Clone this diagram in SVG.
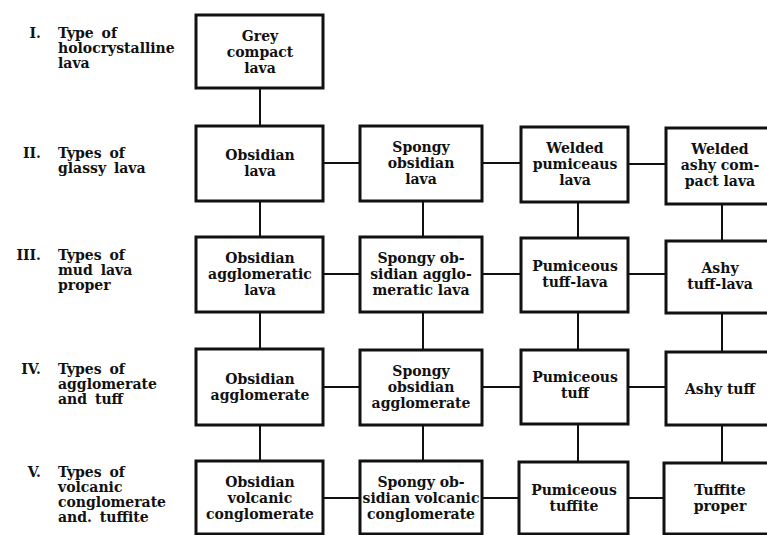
<svg xmlns="http://www.w3.org/2000/svg" width="767" height="535" viewBox="0 0 767 535">
<style>
.box{fill:#fff;stroke:#111;stroke-width:3}
.t{font-family:"DejaVu Serif","Liberation Serif",serif;font-weight:bold;font-size:14px;fill:#111;text-anchor:middle}
.l{font-family:"DejaVu Serif","Liberation Serif",serif;font-weight:bold;font-size:14px;fill:#111;word-spacing:3px}
.n{text-anchor:end}
.c{stroke:#111;stroke-width:2;fill:none}
</style>
<rect width="767" height="535" fill="#fff"/>
<g id="labels">
<text class="l n" x="41" y="38">I.</text>
<text class="l" x="58" y="38">Type of<tspan x="58" dy="15">holocrystalline</tspan><tspan x="58" dy="15">lava</tspan></text>
<text class="l n" x="41" y="158">II.</text>
<text class="l" x="58" y="158">Types of<tspan x="58" dy="15">glassy lava</tspan></text>
<text class="l n" x="41" y="260">III.</text>
<text class="l" x="58" y="260">Types of<tspan x="58" dy="15">mud lava</tspan><tspan x="58" dy="15">proper</tspan></text>
<text class="l n" x="41" y="374">IV.</text>
<text class="l" x="58" y="374">Types of<tspan x="58" dy="15">agglomerate</tspan><tspan x="58" dy="15">and tuff</tspan></text>
<text class="l n" x="41" y="477">V.</text>
<text class="l" x="58" y="477">Types of<tspan x="58" dy="15">volcanic</tspan><tspan x="58" dy="15">conglomerate</tspan><tspan x="58" dy="15">and. tuffite</tspan></text>
</g>
<g id="connectors">
<path class="c" d="M260 88V126M260 201V237M260 312V349M260 425V461"/>
<path class="c" d="M423 201V237M423 312V349M423 425V461"/>
<path class="c" d="M578 202V238M578 312V350M578 424V462"/>
<path class="c" d="M722 204V241M722 313V352M722 425V463"/>
<path class="c" d="M323 163H360M482 163H521M628 164H666"/>
<path class="c" d="M323 274H360M482 274H521M628 274H666"/>
<path class="c" d="M323 387H360M482 387H521M628 387H666"/>
<path class="c" d="M323 498H360M482 498H521M628 498H666"/>
</g>
<g id="n_grey"><rect class="box" x="196" y="15" width="127" height="73"/><text class="t" x="260" y="40.5">Grey<tspan x="260" dy="16">compact</tspan><tspan x="260" dy="16">lava</tspan></text></g>
<g id="n_obs_lava"><rect class="box" x="196" y="126" width="127" height="75"/><text class="t" x="260" y="160">Obsidian<tspan x="260" dy="16">lava</tspan></text></g>
<g id="n_sp_obs_lava"><rect class="box" x="360" y="126" width="122" height="75"/><text class="t" x="421" y="152">Spongy<tspan x="421" dy="16">obsidian</tspan><tspan x="421" dy="16">lava</tspan></text></g>
<g id="n_weld_pum"><rect class="box" x="521" y="127" width="107" height="75"/><text class="t" x="575" y="153">Welded<tspan x="575" dy="16">pumiceaus</tspan><tspan x="575" dy="16">lava</tspan></text></g>
<g id="n_weld_ashy"><rect class="box" x="666" y="128" width="115" height="76"/><text class="t" x="720" y="154">Welded<tspan x="720" dy="16">ashy com-</tspan><tspan x="720" dy="16">pact lava</tspan></text></g>
<g id="n_obs_aggl_lava"><rect class="box" x="196" y="237" width="127" height="75"/><text class="t" x="260" y="263">Obsidian<tspan x="260" dy="16">agglomeratic</tspan><tspan x="260" dy="16">lava</tspan></text></g>
<g id="n_sp_aggl_lava"><rect class="box" x="360" y="237" width="122" height="75"/><text class="t" x="421" y="263">Spongy ob-<tspan x="421" dy="16">sidian agglo-</tspan><tspan x="421" dy="16">meratic lava</tspan></text></g>
<g id="n_pum_tufflava"><rect class="box" x="521" y="238" width="107" height="74"/><text class="t" x="575" y="271">Pumiceous<tspan x="575" dy="16">tuff-lava</tspan></text></g>
<g id="n_ashy_tufflava"><rect class="box" x="666" y="241" width="115" height="72"/><text class="t" x="720" y="273">Ashy<tspan x="720" dy="16">tuff-lava</tspan></text></g>
<g id="n_obs_aggl"><rect class="box" x="196" y="349" width="127" height="76"/><text class="t" x="260" y="384">Obsidian<tspan x="260" dy="16">agglomerate</tspan></text></g>
<g id="n_sp_aggl"><rect class="box" x="360" y="350" width="122" height="75"/><text class="t" x="421" y="376">Spongy<tspan x="421" dy="16">obsidian</tspan><tspan x="421" dy="16">agglomerate</tspan></text></g>
<g id="n_pum_tuff"><rect class="box" x="521" y="350" width="107" height="74"/><text class="t" x="575" y="382">Pumiceous<tspan x="575" dy="16">tuff</tspan></text></g>
<g id="n_ashy_tuff"><rect class="box" x="666" y="352" width="115" height="73"/><text class="t" x="720" y="394">Ashy tuff</text></g>
<g id="n_obs_conglo"><rect class="box" x="196" y="461" width="127" height="73"/><text class="t" x="260" y="487">Obsidian<tspan x="260" dy="16">volcanic</tspan><tspan x="260" dy="16">conglomerate</tspan></text></g>
<g id="n_sp_conglo"><rect class="box" x="360" y="461" width="122" height="73"/><text class="t" x="421" y="487">Spongy ob-<tspan x="421" dy="16">sidian volcanic</tspan><tspan x="421" dy="16">conglomerate</tspan></text></g>
<g id="n_pum_tuffite"><rect class="box" x="519" y="462" width="109" height="72"/><text class="t" x="574" y="495">Pumiceous<tspan x="574" dy="16">tuffite</tspan></text></g>
<g id="n_tuffite"><rect class="box" x="664" y="463" width="117" height="71"/><text class="t" x="720" y="495">Tuffite<tspan x="720" dy="16">proper</tspan></text></g>
</svg>
